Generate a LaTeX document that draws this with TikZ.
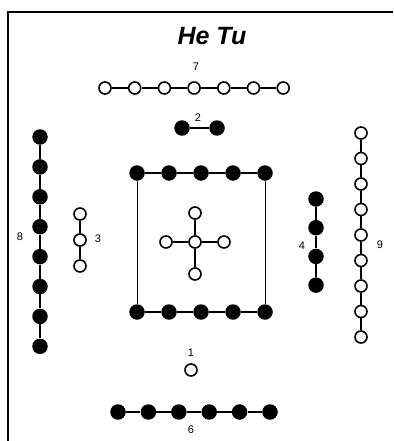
\documentclass[tikz,border=0pt]{standalone}
\usepackage{fontspec}
\setmainfont{Liberation Sans}
\usetikzlibrary{positioning}

\tikzset{
  yang/.style={circle, draw, line width=1.6pt, fill=white, inner sep=0pt, minimum size=12pt},
  yin/.style={circle, fill=black, inner sep=0pt, minimum size=15.5pt},
  num/.style={font=\fontsize{11}{13}\selectfont},
  link/.style={line width=1.2pt}
}

\begin{document}
\begin{tikzpicture}[x=1pt, y=-1pt, on grid]
	\useasboundingbox (0,0) rectangle (393,441);
	\draw[line width=2pt] (8,441) -- (8,12) -- (393,12);
	\node[font=\bfseries\itshape\fontsize{25}{30}\selectfont] (title) at (212,36) {He Tu};

	% seven, top row
	\begin{scope}[node distance=29.7pt]
	\node[yang] (s1) at (105,88) {};
	\node[yang, right=of s1] (s2) {};
	\node[yang, right=of s2] (s3) {};
	\node[yang, right=of s3] (s4) {};
	\node[yang, right=of s4] (s5) {};
	\node[yang, right=of s5] (s6) {};
	\node[yang, right=of s6] (s7) {};
	\end{scope}
	\node[num] (l7) at (196,67) {7};
	\path[link] (s1) edge (s2) (s2) edge (s3) (s3) edge (s4)
		(s4) edge (s5) (s5) edge (s6) (s6) edge (s7);

	% two
	\node[yin] (t1) at (182,128) {};
	\node[yin, right=35pt of t1] (t2) {};
	\node[num] (l2) at (198,118) {2};
	\draw[link] (t1) -- (t2);

	% eight, left column
	\begin{scope}[node distance=29.9pt]
	\node[yin] (e1) at (40,137) {};
	\node[yin, below=of e1] (e2) {};
	\node[yin, below=of e2] (e3) {};
	\node[yin, below=of e3] (e4) {};
	\node[yin, below=of e4] (e5) {};
	\node[yin, below=of e5] (e6) {};
	\node[yin, below=of e6] (e7) {};
	\node[yin, below=of e7] (e8) {};
	\end{scope}
	\node[num] (l8) at (20,237) {8};
	\path[link] (e1) edge (e2) (e2) edge (e3) (e3) edge (e4) (e4) edge (e5)
		(e5) edge (e6) (e6) edge (e7) (e7) edge (e8);

	% three
	\begin{scope}[node distance=26pt]
	\node[yang] (h1) at (80,214) {};
	\node[yang, below=of h1] (h2) {};
	\node[yang, below=of h2] (h3) {};
	\end{scope}
	\node[num] (l3) at (98,239) {3};
	\path[link] (h1) edge (h2) (h2) edge (h3);

	% ten, square
	\begin{scope}[node distance=32pt]
	\node[yin] (q1) at (137,173) {};
	\node[yin, right=of q1] (q2) {};
	\node[yin, right=of q2] (q3) {};
	\node[yin, right=of q3] (q4) {};
	\node[yin, right=of q4] (q5) {};
	\node[yin] (p1) at (137,312) {};
	\node[yin, right=of p1] (p2) {};
	\node[yin, right=of p2] (p3) {};
	\node[yin, right=of p3] (p4) {};
	\node[yin, right=of p4] (p5) {};
	\end{scope}
	\path[link] (q1) edge (q2) (q2) edge (q3) (q3) edge (q4) (q4) edge (q5)
		(p1) edge (p2) (p2) edge (p3) (p3) edge (p4) (p4) edge (p5);
	\path[link, line width=1pt] (q1) edge (p1) (q5) edge (p5);

	% five, centre cross
	\begin{scope}[node distance=29pt]
	\node[yang] (c0) at (195,242) {};
	\node[yang, above=of c0] (cn) {};
	\node[yang, below=32pt of c0] (cs) {};
	\node[yang, left=of c0] (cw) {};
	\node[yang, right=of c0] (ce) {};
	\end{scope}
	\path[link] (c0) edge (cn) (c0) edge (cs) (c0) edge (cw) (c0) edge (ce);

	% four
	\begin{scope}[node distance=28.7pt]
	\node[yin] (f1) at (316,199) {};
	\node[yin, below=of f1] (f2) {};
	\node[yin, below=of f2] (f3) {};
	\node[yin, below=of f3] (f4) {};
	\end{scope}
	\node[num] (l4) at (302,246) {4};
	\path[link] (f1) edge (f2) (f2) edge (f3) (f3) edge (f4);

	% nine, right column
	\begin{scope}[node distance=25.5pt]
	\node[yang] (n1) at (361,133) {};
	\node[yang, below=of n1] (n2) {};
	\node[yang, below=of n2] (n3) {};
	\node[yang, below=of n3] (n4) {};
	\node[yang, below=of n4] (n5) {};
	\node[yang, below=of n5] (n6) {};
	\node[yang, below=of n6] (n7) {};
	\node[yang, below=of n7] (n8) {};
	\node[yang, below=of n8] (n9) {};
	\end{scope}
	\node[num] (l9) at (380,245) {9};
	\path[link] (n1) edge (n2) (n2) edge (n3) (n3) edge (n4) (n4) edge (n5)
		(n5) edge (n6) (n6) edge (n7) (n7) edge (n8) (n8) edge (n9);

	% one
	\node[yang] (o1) at (191,370) {};
	\node[num] (l1) at (191,353) {1};

	% six, bottom row
	\begin{scope}[node distance=30.4pt]
	\node[yin] (x1) at (118,412) {};
	\node[yin, right=of x1] (x2) {};
	\node[yin, right=of x2] (x3) {};
	\node[yin, right=of x3] (x4) {};
	\node[yin, right=of x4] (x5) {};
	\node[yin, right=of x5] (x6) {};
	\end{scope}
	\node[num] (l6) at (191,430) {6};
	\path[link] (x1) edge (x2) (x2) edge (x3) (x3) edge (x4)
		(x4) edge (x5) (x5) edge (x6);
\end{tikzpicture}
\end{document}
